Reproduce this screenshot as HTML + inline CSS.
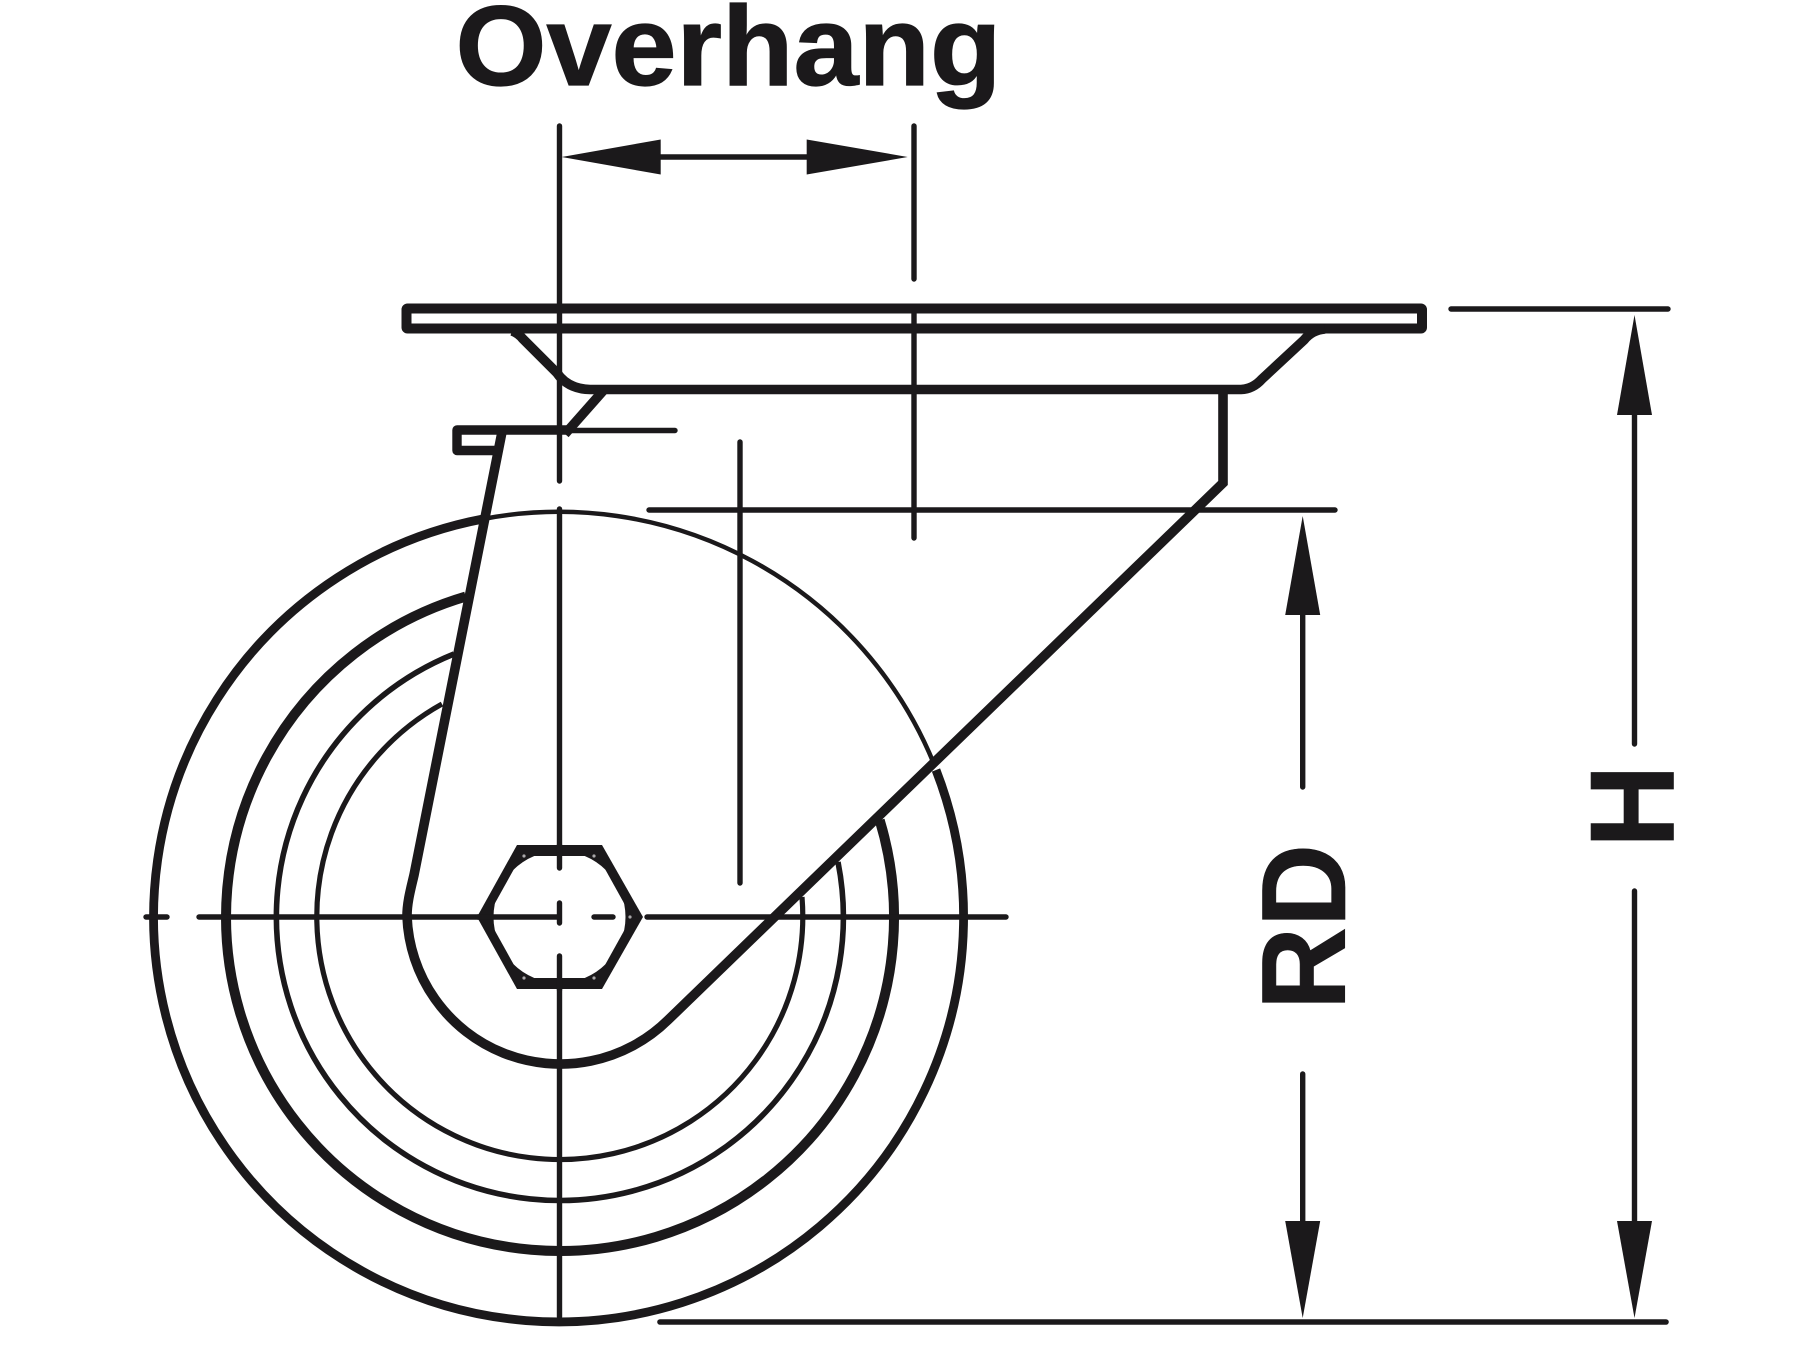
<!DOCTYPE html>
<html>
<head>
<meta charset="utf-8">
<style>
html,body{margin:0;padding:0;background:#fff;width:1800px;height:1350px;overflow:hidden}
svg{display:block}
text{font-family:"Liberation Sans",Arial,sans-serif;font-weight:bold;fill:#1b191b;stroke:#1b191b}
</style>
</head>
<body>
<svg width="1800" height="1350" viewBox="0 0 1800 1350" xmlns="http://www.w3.org/2000/svg">
<defs>
<clipPath id="hexin"><polygon points="521.2,856 597.8,856 631.7,917 597.8,978 521.2,978 487.3,917"/></clipPath>
</defs>
<rect width="1800" height="1350" fill="#fff"/>
<g fill="none" stroke="#1b191b" stroke-linecap="butt" stroke-linejoin="round">
  <!-- Wheel rings -->
  <path d="M483,519 A405,405 0 0 1 934,764" stroke-width="4.5"/>
  <path d="M936,770 A405,405 0 1 1 483,519" stroke-width="8.8"/>
  <path d="M879.7,820.2 A334,334 0 1 1 465.7,596.6" stroke-width="10"/>
  <path d="M838,862 A283.5,283.5 0 1 1 454,654" stroke-width="5.6"/>
  <path d="M802,897 A243,243 0 1 1 442,704" stroke-width="5.2"/>

  <!-- Centre lines and dimension lines -->
  <g stroke-width="5.4" stroke-linecap="round">
    <line x1="559.5" y1="126" x2="559.5" y2="481"/>
    <line x1="559.5" y1="509" x2="559.5" y2="1317"/>
    <line x1="914" y1="126" x2="914" y2="279"/>
    <line x1="914" y1="309" x2="914" y2="538"/>
    <line x1="740" y1="442" x2="740" y2="883"/>
    <line x1="649" y1="510" x2="1335" y2="510"/>
    <line x1="567" y1="430.5" x2="675" y2="430.5"/>
    <line x1="1451" y1="309" x2="1668" y2="309"/>
    <line x1="660" y1="1322" x2="1666" y2="1322" stroke-width="5.6"/>
    <line x1="146" y1="917" x2="167" y2="917"/>
    <line x1="199" y1="917" x2="478" y2="917"/>
    <line x1="647" y1="917" x2="1006" y2="917"/>
    <line x1="660" y1="157" x2="807" y2="157"/>
    <line x1="1302.7" y1="610" x2="1302.7" y2="787"/>
    <line x1="1302.7" y1="1074" x2="1302.7" y2="1225"/>
    <line x1="1634.5" y1="410" x2="1634.5" y2="744"/>
    <line x1="1634.5" y1="891" x2="1634.5" y2="1225"/>
  </g>

  <!-- Top plate -->
  <rect x="406.5" y="308.5" width="1015.5" height="20" stroke-width="10" rx="1"/>
  <!-- Plate bracket -->
  <path d="M512,331 Q518,333 523,339 L557,373 Q568,389 590,389.5 L1241,389.5 Q1253,389 1262,379 L1304,340 Q1312,330 1325,329" stroke-width="9.6"/>
  <!-- Fork -->
  <path d="M502,432 L414,875 C411,888 407,902 407,916 A153.5,153.5 0 0 0 668,1020 L1223,483 L1223,390" stroke-width="9.6" stroke-linejoin="miter"/>
  <!-- Tab -->
  <path d="M498,450.5 L457,450.5 L457,430 L567,430" stroke-width="9.4"/>
  <line x1="603" y1="391" x2="565" y2="434" stroke-width="9.6"/>
</g>

<!-- Hex nut -->
<polygon points="517,845 602,845 643,917 602,989 517,989 477,917" fill="#1b191b"/>
<circle cx="559.5" cy="917" r="66" fill="#fff" clip-path="url(#hexin)"/>
<g fill="#a9a7a9">
  <circle cx="524" cy="856" r="1.6"/>
  <circle cx="594" cy="856" r="1.6"/>
  <circle cx="630" cy="917" r="1.6"/>
  <circle cx="524" cy="978" r="1.6"/>
  <circle cx="594" cy="978" r="1.6"/>
</g>
<g stroke="#1b191b" stroke-width="5.4" stroke-linecap="round" fill="none">
  <line x1="559.5" y1="845" x2="559.5" y2="868"/>
  <line x1="559.5" y1="903" x2="559.5" y2="923"/>
  <line x1="559.5" y1="956" x2="559.5" y2="990"/>
  <line x1="478" y1="917" x2="558" y2="917"/>
  <line x1="594" y1="917" x2="613" y2="917"/>
</g>

<!-- Arrowheads -->
<g fill="#1b191b">
  <polygon points="561.7,157 660.7,139.5 660.7,174.5"/>
  <polygon points="907.7,157 806.7,139.5 806.7,174.5"/>
  <polygon points="1302.7,516 1285.2,615 1320.2,615"/>
  <polygon points="1302.7,1318 1285.2,1221 1320.2,1221"/>
  <polygon points="1634.5,315 1617,415 1652,415"/>
  <polygon points="1634.5,1318 1617,1221 1652,1221"/>
</g>

<!-- Labels -->
<text transform="translate(455.5,85) scale(1.035,1)" font-size="113" stroke-width="1.2">Overhang</text>
<text transform="translate(1345,1010) rotate(-90) scale(1,1.04)" font-size="115" stroke-width="0.6">RD</text>
<text transform="translate(1673.3,847.7) rotate(-90) scale(1,1.04)" font-size="115" stroke-width="0.6">H</text>
</svg>
</body>
</html>
